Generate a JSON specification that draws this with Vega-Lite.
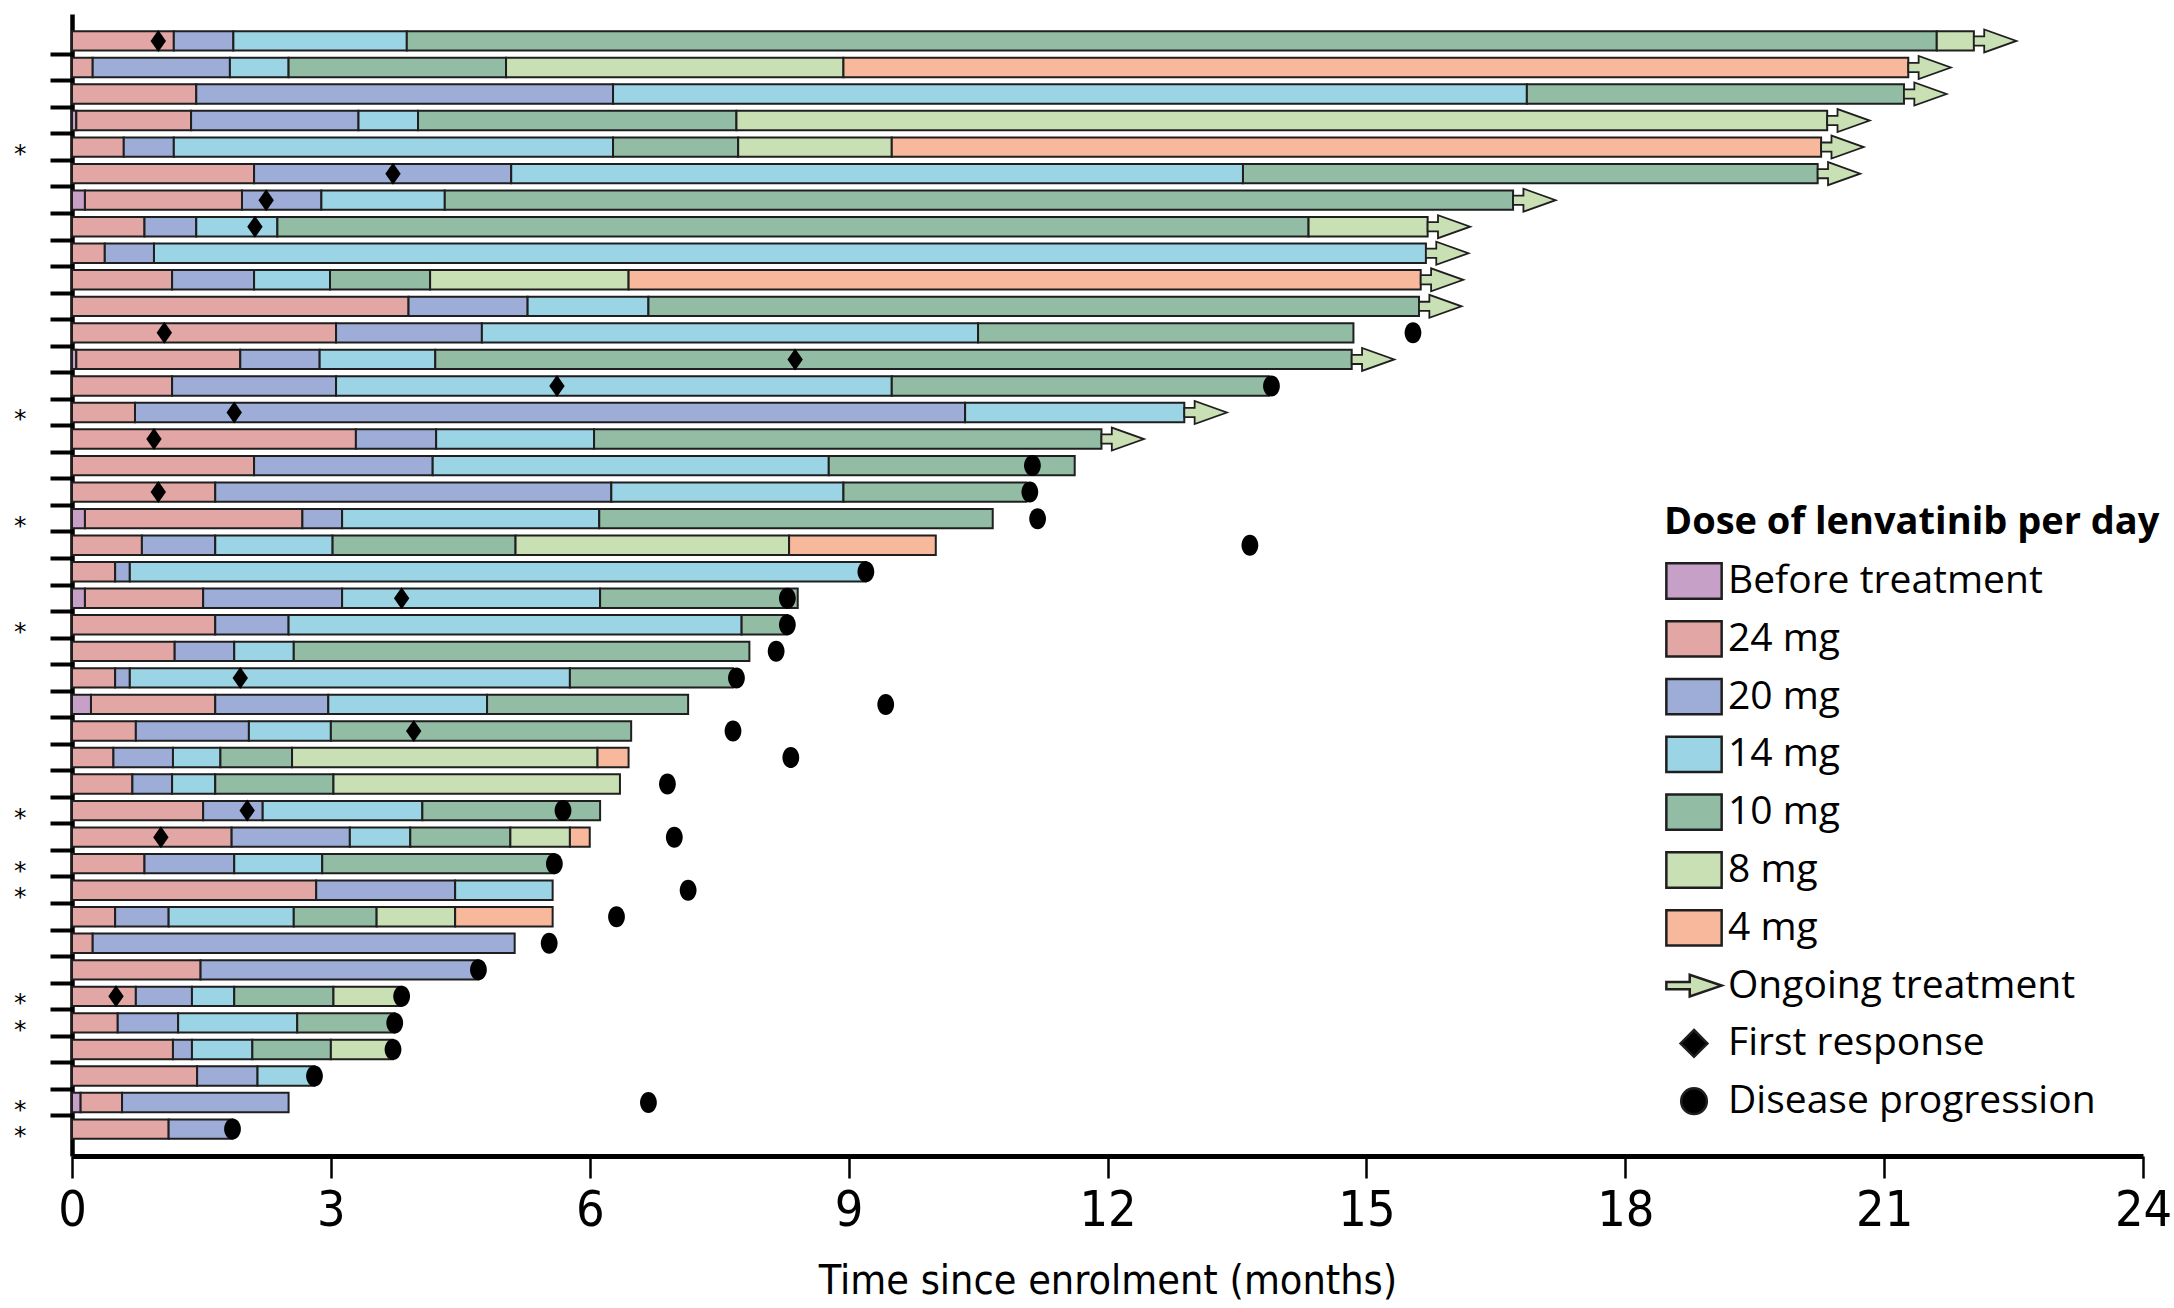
{
  "$schema": "https://vega.github.io/schema/vega-lite/v6.json",
  "width": 2071,
  "height": 1142,
  "autosize": {"type": "none"},
  "padding": {"left": 72, "top": 14, "right": 31, "bottom": 152},
  "background": "white",
  "config": {
    "view": {"stroke": null},
    "legend": {
      "padding": 0,
      "titleFont": "Open Sans", "titleFontSize": 38, "titleFontWeight": "bold", "titleColor": "black", "titlePadding": 9, "titleLimit": 0,
      "labelFont": "Open Sans", "labelFontSize": 39, "labelColor": "black", "labelOffset": 4, "labelLimit": 0,
      "symbolSize": 3249, "symbolStrokeWidth": 2.5, "symbolOpacity": 1, "rowPadding": 4.8, "gridAlign": "all"
    }
  },
  "datasets": {
    "seg": [
      {"p":"P01","d":"24 mg","s":0,"e":1.18},{"p":"P01","d":"20 mg","s":1.18,"e":1.87},{"p":"P01","d":"14 mg","s":1.87,"e":3.88},{"p":"P01","d":"10 mg","s":3.88,"e":21.61},{"p":"P01","d":"8 mg","s":21.61,"e":22.04},
      {"p":"P02","d":"24 mg","s":0,"e":0.24},{"p":"P02","d":"20 mg","s":0.24,"e":1.83},{"p":"P02","d":"14 mg","s":1.83,"e":2.51},{"p":"P02","d":"10 mg","s":2.51,"e":5.03},{"p":"P02","d":"8 mg","s":5.03,"e":8.94},{"p":"P02","d":"4 mg","s":8.94,"e":21.28},
      {"p":"P03","d":"24 mg","s":0,"e":1.44},{"p":"P03","d":"20 mg","s":1.44,"e":6.27},{"p":"P03","d":"14 mg","s":6.27,"e":16.86},{"p":"P03","d":"10 mg","s":16.86,"e":21.23},
      {"p":"P04","d":"Before treatment","s":0,"e":0.05},{"p":"P04","d":"24 mg","s":0.05,"e":1.38},{"p":"P04","d":"20 mg","s":1.38,"e":3.32},{"p":"P04","d":"14 mg","s":3.32,"e":4.01},{"p":"P04","d":"10 mg","s":4.01,"e":7.70},{"p":"P04","d":"8 mg","s":7.70,"e":20.34},
      {"p":"P05","d":"24 mg","s":0,"e":0.60},{"p":"P05","d":"20 mg","s":0.60,"e":1.18},{"p":"P05","d":"14 mg","s":1.18,"e":6.27},{"p":"P05","d":"10 mg","s":6.27,"e":7.72},{"p":"P05","d":"8 mg","s":7.72,"e":9.50},{"p":"P05","d":"4 mg","s":9.50,"e":20.27},
      {"p":"P06","d":"24 mg","s":0,"e":2.11},{"p":"P06","d":"20 mg","s":2.11,"e":5.09},{"p":"P06","d":"14 mg","s":5.09,"e":13.57},{"p":"P06","d":"10 mg","s":13.57,"e":20.23},
      {"p":"P07","d":"Before treatment","s":0,"e":0.15},{"p":"P07","d":"24 mg","s":0.15,"e":1.97},{"p":"P07","d":"20 mg","s":1.97,"e":2.89},{"p":"P07","d":"14 mg","s":2.89,"e":4.32},{"p":"P07","d":"10 mg","s":4.32,"e":16.70},
      {"p":"P08","d":"24 mg","s":0,"e":0.84},{"p":"P08","d":"20 mg","s":0.84,"e":1.44},{"p":"P08","d":"14 mg","s":1.44,"e":2.38},{"p":"P08","d":"10 mg","s":2.38,"e":14.33},{"p":"P08","d":"8 mg","s":14.33,"e":15.71},
      {"p":"P09","d":"24 mg","s":0,"e":0.38},{"p":"P09","d":"20 mg","s":0.38,"e":0.95},{"p":"P09","d":"14 mg","s":0.95,"e":15.69},
      {"p":"P10","d":"24 mg","s":0,"e":1.16},{"p":"P10","d":"20 mg","s":1.16,"e":2.11},{"p":"P10","d":"14 mg","s":2.11,"e":2.99},{"p":"P10","d":"10 mg","s":2.99,"e":4.15},{"p":"P10","d":"8 mg","s":4.15,"e":6.45},{"p":"P10","d":"4 mg","s":6.45,"e":15.63},
      {"p":"P11","d":"24 mg","s":0,"e":3.90},{"p":"P11","d":"20 mg","s":3.90,"e":5.28},{"p":"P11","d":"14 mg","s":5.28,"e":6.68},{"p":"P11","d":"10 mg","s":6.68,"e":15.61},
      {"p":"P12","d":"24 mg","s":0,"e":3.06},{"p":"P12","d":"20 mg","s":3.06,"e":4.75},{"p":"P12","d":"14 mg","s":4.75,"e":10.50},{"p":"P12","d":"10 mg","s":10.50,"e":14.85},
      {"p":"P13","d":"Before treatment","s":0,"e":0.05},{"p":"P13","d":"24 mg","s":0.05,"e":1.95},{"p":"P13","d":"20 mg","s":1.95,"e":2.87},{"p":"P13","d":"14 mg","s":2.87,"e":4.21},{"p":"P13","d":"10 mg","s":4.21,"e":14.83},
      {"p":"P14","d":"24 mg","s":0,"e":1.16},{"p":"P14","d":"20 mg","s":1.16,"e":3.06},{"p":"P14","d":"14 mg","s":3.06,"e":9.50},{"p":"P14","d":"10 mg","s":9.50,"e":13.87},
      {"p":"P15","d":"24 mg","s":0,"e":0.73},{"p":"P15","d":"20 mg","s":0.73,"e":10.35},{"p":"P15","d":"14 mg","s":10.35,"e":12.89},
      {"p":"P16","d":"24 mg","s":0,"e":3.29},{"p":"P16","d":"20 mg","s":3.29,"e":4.22},{"p":"P16","d":"14 mg","s":4.22,"e":6.05},{"p":"P16","d":"10 mg","s":6.05,"e":11.93},
      {"p":"P17","d":"24 mg","s":0,"e":2.11},{"p":"P17","d":"20 mg","s":2.11,"e":4.18},{"p":"P17","d":"14 mg","s":4.18,"e":8.77},{"p":"P17","d":"10 mg","s":8.77,"e":11.62},
      {"p":"P18","d":"24 mg","s":0,"e":1.66},{"p":"P18","d":"20 mg","s":1.66,"e":6.25},{"p":"P18","d":"14 mg","s":6.25,"e":8.94},{"p":"P18","d":"10 mg","s":8.94,"e":11.06},
      {"p":"P19","d":"Before treatment","s":0,"e":0.15},{"p":"P19","d":"24 mg","s":0.15,"e":2.67},{"p":"P19","d":"20 mg","s":2.67,"e":3.13},{"p":"P19","d":"14 mg","s":3.13,"e":6.11},{"p":"P19","d":"10 mg","s":6.11,"e":10.67},
      {"p":"P20","d":"24 mg","s":0,"e":0.81},{"p":"P20","d":"20 mg","s":0.81,"e":1.66},{"p":"P20","d":"14 mg","s":1.66,"e":3.02},{"p":"P20","d":"10 mg","s":3.02,"e":5.14},{"p":"P20","d":"8 mg","s":5.14,"e":8.31},{"p":"P20","d":"4 mg","s":8.31,"e":10.01},
      {"p":"P21","d":"24 mg","s":0,"e":0.50},{"p":"P21","d":"20 mg","s":0.50,"e":0.67},{"p":"P21","d":"14 mg","s":0.67,"e":9.20},
      {"p":"P22","d":"Before treatment","s":0,"e":0.15},{"p":"P22","d":"24 mg","s":0.15,"e":1.52},{"p":"P22","d":"20 mg","s":1.52,"e":3.13},{"p":"P22","d":"14 mg","s":3.13,"e":6.12},{"p":"P22","d":"10 mg","s":6.12,"e":8.41},
      {"p":"P23","d":"24 mg","s":0,"e":1.66},{"p":"P23","d":"20 mg","s":1.66,"e":2.51},{"p":"P23","d":"14 mg","s":2.51,"e":7.76},{"p":"P23","d":"10 mg","s":7.76,"e":8.29},
      {"p":"P24","d":"24 mg","s":0,"e":1.19},{"p":"P24","d":"20 mg","s":1.19,"e":1.88},{"p":"P24","d":"14 mg","s":1.88,"e":2.57},{"p":"P24","d":"10 mg","s":2.57,"e":7.85},
      {"p":"P25","d":"24 mg","s":0,"e":0.50},{"p":"P25","d":"20 mg","s":0.50,"e":0.67},{"p":"P25","d":"14 mg","s":0.67,"e":5.77},{"p":"P25","d":"10 mg","s":5.77,"e":7.66},
      {"p":"P26","d":"Before treatment","s":0,"e":0.22},{"p":"P26","d":"24 mg","s":0.22,"e":1.66},{"p":"P26","d":"20 mg","s":1.66,"e":2.97},{"p":"P26","d":"14 mg","s":2.97,"e":4.81},{"p":"P26","d":"10 mg","s":4.81,"e":7.14},
      {"p":"P27","d":"24 mg","s":0,"e":0.74},{"p":"P27","d":"20 mg","s":0.74,"e":2.05},{"p":"P27","d":"14 mg","s":2.05,"e":3.00},{"p":"P27","d":"10 mg","s":3.00,"e":6.48},
      {"p":"P28","d":"24 mg","s":0,"e":0.48},{"p":"P28","d":"20 mg","s":0.48,"e":1.17},{"p":"P28","d":"14 mg","s":1.17,"e":1.72},{"p":"P28","d":"10 mg","s":1.72,"e":2.55},{"p":"P28","d":"8 mg","s":2.55,"e":6.09},{"p":"P28","d":"4 mg","s":6.09,"e":6.45},
      {"p":"P29","d":"24 mg","s":0,"e":0.70},{"p":"P29","d":"20 mg","s":0.70,"e":1.16},{"p":"P29","d":"14 mg","s":1.16,"e":1.66},{"p":"P29","d":"10 mg","s":1.66,"e":3.03},{"p":"P29","d":"8 mg","s":3.03,"e":6.35},
      {"p":"P30","d":"24 mg","s":0,"e":1.52},{"p":"P30","d":"20 mg","s":1.52,"e":2.21},{"p":"P30","d":"14 mg","s":2.21,"e":4.06},{"p":"P30","d":"10 mg","s":4.06,"e":6.12},
      {"p":"P31","d":"24 mg","s":0,"e":1.85},{"p":"P31","d":"20 mg","s":1.85,"e":3.22},{"p":"P31","d":"14 mg","s":3.22,"e":3.92},{"p":"P31","d":"10 mg","s":3.92,"e":5.08},{"p":"P31","d":"8 mg","s":5.08,"e":5.77},{"p":"P31","d":"4 mg","s":5.77,"e":6.00},
      {"p":"P32","d":"24 mg","s":0,"e":0.84},{"p":"P32","d":"20 mg","s":0.84,"e":1.88},{"p":"P32","d":"14 mg","s":1.88,"e":2.90},{"p":"P32","d":"10 mg","s":2.90,"e":5.59},
      {"p":"P33","d":"24 mg","s":0,"e":2.83},{"p":"P33","d":"20 mg","s":2.83,"e":4.44},{"p":"P33","d":"14 mg","s":4.44,"e":5.57},
      {"p":"P34","d":"24 mg","s":0,"e":0.50},{"p":"P34","d":"20 mg","s":0.50,"e":1.12},{"p":"P34","d":"14 mg","s":1.12,"e":2.57},{"p":"P34","d":"10 mg","s":2.57,"e":3.53},{"p":"P34","d":"8 mg","s":3.53,"e":4.44},{"p":"P34","d":"4 mg","s":4.44,"e":5.57},
      {"p":"P35","d":"24 mg","s":0,"e":0.24},{"p":"P35","d":"20 mg","s":0.24,"e":5.13},
      {"p":"P36","d":"24 mg","s":0,"e":1.49},{"p":"P36","d":"20 mg","s":1.49,"e":4.71},
      {"p":"P37","d":"24 mg","s":0,"e":0.74},{"p":"P37","d":"20 mg","s":0.74,"e":1.39},{"p":"P37","d":"14 mg","s":1.39,"e":1.88},{"p":"P37","d":"10 mg","s":1.88,"e":3.03},{"p":"P37","d":"8 mg","s":3.03,"e":3.82},
      {"p":"P38","d":"24 mg","s":0,"e":0.53},{"p":"P38","d":"20 mg","s":0.53,"e":1.23},{"p":"P38","d":"14 mg","s":1.23,"e":2.61},{"p":"P38","d":"10 mg","s":2.61,"e":3.74},
      {"p":"P39","d":"24 mg","s":0,"e":1.17},{"p":"P39","d":"20 mg","s":1.17,"e":1.39},{"p":"P39","d":"14 mg","s":1.39,"e":2.09},{"p":"P39","d":"10 mg","s":2.09,"e":3.00},{"p":"P39","d":"8 mg","s":3.00,"e":3.72},
      {"p":"P40","d":"24 mg","s":0,"e":1.45},{"p":"P40","d":"20 mg","s":1.45,"e":2.15},{"p":"P40","d":"14 mg","s":2.15,"e":2.81},
      {"p":"P41","d":"Before treatment","s":0,"e":0.10},{"p":"P41","d":"24 mg","s":0.10,"e":0.58},{"p":"P41","d":"20 mg","s":0.58,"e":2.51},
      {"p":"P42","d":"24 mg","s":0,"e":1.12},{"p":"P42","d":"20 mg","s":1.12,"e":1.86}
    ],
    "ev": [
      {"p":"P01","k":"ongoing","d":"Ongoing treatment","t":22.04},{"p":"P02","k":"ongoing","d":"Ongoing treatment","t":21.28},{"p":"P03","k":"ongoing","d":"Ongoing treatment","t":21.23},{"p":"P04","k":"ongoing","d":"Ongoing treatment","t":20.34},{"p":"P05","k":"ongoing","d":"Ongoing treatment","t":20.27},{"p":"P06","k":"ongoing","d":"Ongoing treatment","t":20.23},{"p":"P07","k":"ongoing","d":"Ongoing treatment","t":16.70},{"p":"P08","k":"ongoing","d":"Ongoing treatment","t":15.71},{"p":"P09","k":"ongoing","d":"Ongoing treatment","t":15.69},{"p":"P10","k":"ongoing","d":"Ongoing treatment","t":15.63},{"p":"P11","k":"ongoing","d":"Ongoing treatment","t":15.61},{"p":"P13","k":"ongoing","d":"Ongoing treatment","t":14.83},{"p":"P15","k":"ongoing","d":"Ongoing treatment","t":12.89},{"p":"P16","k":"ongoing","d":"Ongoing treatment","t":11.93},
      {"p":"P01","k":"response","d":"First response","t":1.0},{"p":"P06","k":"response","d":"First response","t":3.72},{"p":"P07","k":"response","d":"First response","t":2.25},{"p":"P08","k":"response","d":"First response","t":2.12},{"p":"P12","k":"response","d":"First response","t":1.07},{"p":"P13","k":"response","d":"First response","t":8.38},{"p":"P14","k":"response","d":"First response","t":5.62},{"p":"P15","k":"response","d":"First response","t":1.88},{"p":"P16","k":"response","d":"First response","t":0.95},{"p":"P18","k":"response","d":"First response","t":1.0},{"p":"P22","k":"response","d":"First response","t":3.82},{"p":"P25","k":"response","d":"First response","t":1.95},{"p":"P27","k":"response","d":"First response","t":3.96},{"p":"P30","k":"response","d":"First response","t":2.03},{"p":"P31","k":"response","d":"First response","t":1.03},{"p":"P37","k":"response","d":"First response","t":0.51},
      {"p":"P12","k":"progression","d":"Disease progression","t":15.54},{"p":"P14","k":"progression","d":"Disease progression","t":13.9},{"p":"P17","k":"progression","d":"Disease progression","t":11.13},{"p":"P18","k":"progression","d":"Disease progression","t":11.1},{"p":"P19","k":"progression","d":"Disease progression","t":11.19},{"p":"P20","k":"progression","d":"Disease progression","t":13.65},{"p":"P21","k":"progression","d":"Disease progression","t":9.20},{"p":"P22","k":"progression","d":"Disease progression","t":8.29},{"p":"P23","k":"progression","d":"Disease progression","t":8.29},{"p":"P24","k":"progression","d":"Disease progression","t":8.16},{"p":"P25","k":"progression","d":"Disease progression","t":7.70},{"p":"P26","k":"progression","d":"Disease progression","t":9.43},{"p":"P27","k":"progression","d":"Disease progression","t":7.66},{"p":"P28","k":"progression","d":"Disease progression","t":8.33},{"p":"P29","k":"progression","d":"Disease progression","t":6.90},{"p":"P30","k":"progression","d":"Disease progression","t":5.69},{"p":"P31","k":"progression","d":"Disease progression","t":6.98},{"p":"P32","k":"progression","d":"Disease progression","t":5.59},{"p":"P33","k":"progression","d":"Disease progression","t":7.14},{"p":"P34","k":"progression","d":"Disease progression","t":6.31},{"p":"P35","k":"progression","d":"Disease progression","t":5.53},{"p":"P36","k":"progression","d":"Disease progression","t":4.71},{"p":"P37","k":"progression","d":"Disease progression","t":3.82},{"p":"P38","k":"progression","d":"Disease progression","t":3.74},{"p":"P39","k":"progression","d":"Disease progression","t":3.72},{"p":"P40","k":"progression","d":"Disease progression","t":2.81},{"p":"P41","k":"progression","d":"Disease progression","t":6.68},{"p":"P42","k":"progression","d":"Disease progression","t":1.86}
    ]
  },
  "layer": [
    {
      "data": {"name": "seg"},
      "mark": {"type": "bar", "stroke": "#1f1f1f", "strokeWidth": 2},
      "encoding": {
        "y": {
          "field": "p", "type": "nominal",
          "scale": {
            "domain": ["P01","P02","P03","P04","P05","P06","P07","P08","P09","P10","P11","P12","P13","P14","P15","P16","P17","P18","P19","P20","P21","P22","P23","P24","P25","P26","P27","P28","P29","P30","P31","P32","P33","P34","P35","P36","P37","P38","P39","P40","P41","P42"],
            "paddingInner": 0.27, "paddingOuter": 0.65
          },
          "axis": {
            "title": null, "grid": false,
            "domainColor": "black", "domainWidth": 4.5,
            "tickColor": "black", "tickWidth": 4, "tickSize": 22, "bandPosition": 1.186,
            "tickOpacity": {"condition": {"test": "datum.value === 'P42'", "value": 0}, "value": 1},
            "labelExpr": "indexof(['P05','P15','P19','P23','P30','P32','P33','P37','P38','P41','P42'], datum.value) >= 0 ? '*' : ''",
            "labelFont": "DejaVu Sans", "labelFontSize": 25, "labelColor": "black",
            "labelPadding": 24, "labelBaseline": "middle", "labelOffset": 7
          }
        },
        "x": {
          "field": "s", "type": "quantitative",
          "scale": {"domain": [0, 24], "nice": false},
          "axis": {
            "title": "Time since enrolment (months)", "grid": false,
            "values": [0, 3, 6, 9, 12, 15, 18, 21, 24], "format": "d",
            "domainColor": "black", "domainWidth": 5,
            "tickColor": "black", "tickWidth": 2.5, "tickSize": 22,
            "labelFont": "Liberation Sans Narrow, DejaVu Sans Condensed, Liberation Sans", "labelFontSize": 50, "labelColor": "black", "labelPadding": 7, "labelFlush": false,
            "titleFont": "Liberation Sans Narrow, DejaVu Sans Condensed, Liberation Sans", "titleFontSize": 41, "titleFontWeight": "normal", "titleColor": "black", "titlePadding": 26
          }
        },
        "x2": {"field": "e"},
        "fill": {
          "field": "d", "type": "nominal",
          "scale": {
            "domain": ["Before treatment", "24 mg", "20 mg", "14 mg", "10 mg", "8 mg", "4 mg", "Ongoing treatment", "First response", "Disease progression"],
            "range": ["#c6a0c7", "#e2a6a4", "#9eadd8", "#9bd4e4", "#92bda4", "#c9e0b5", "#f8b89c", "#c9e0b5", "#000000", "#000000"]
          },
          "legend": {"title": "Dose of lenvatinib per day", "orient": "none", "legendX": 1592, "legendY": 490}
        }
      }
    },
    {
      "data": {"name": "ev"},
      "mark": {"type": "point", "filled": true, "opacity": 0, "size": 1, "stroke": "#1a1a1a", "strokeWidth": 2.5},
      "encoding": {
        "y": {"field": "p", "type": "nominal"},
        "x": {"field": "t", "type": "quantitative"},
        "fill": {"field": "d", "type": "nominal"},
        "shape": {
          "field": "d", "type": "nominal",
          "scale": {
            "domain": ["Before treatment", "24 mg", "20 mg", "14 mg", "10 mg", "8 mg", "4 mg", "Ongoing treatment", "First response", "Disease progression"],
            "range": [
              "M-0.97,-0.62H0.97V0.62H-0.97Z", "M-0.97,-0.62H0.97V0.62H-0.97Z", "M-0.97,-0.62H0.97V0.62H-0.97Z", "M-0.97,-0.62H0.97V0.62H-0.97Z", "M-0.97,-0.62H0.97V0.62H-0.97Z", "M-0.97,-0.62H0.97V0.62H-0.97Z", "M-0.97,-0.62H0.97V0.62H-0.97Z",
              "M-0.97,-0.13H-0.15V-0.38L0.97,0L-0.15,0.38V0.13H-0.97Z",
              "M0,-0.47L0.47,0L0,0.47L-0.47,0Z",
              "M-0.45,0A0.45,0.45 0 1,1 0.45,0A0.45,0.45 0 1,1 -0.45,0Z"
            ]
          },
          "legend": {"title": "Dose of lenvatinib per day", "orient": "none", "legendX": 1592, "legendY": 490}
        }
      }
    },
    {
      "data": {"name": "ev"},
      "transform": [{"filter": "datum.k === 'ongoing'"}],
      "mark": {"type": "point", "shape": "M0,-0.4H0.9V-1L3.7,0L0.9,1V0.4H0Z", "size": 529, "filled": true, "fill": "#c9e0b5", "stroke": "#1f1f1f", "strokeWidth": 1.8, "opacity": 1},
      "encoding": {
        "y": {"field": "p", "type": "nominal"},
        "x": {"field": "t", "type": "quantitative"}
      }
    },
    {
      "data": {"name": "ev"},
      "transform": [{"filter": "datum.k === 'progression'"}],
      "mark": {"type": "point", "shape": "M0,-1A0.8,1 0 1,1 0,1A0.8,1 0 1,1 0,-1Z", "size": 441, "filled": true, "fill": "black", "strokeWidth": 0, "opacity": 1},
      "encoding": {
        "y": {"field": "p", "type": "nominal"},
        "x": {"field": "t", "type": "quantitative"}
      }
    },
    {
      "data": {"name": "ev"},
      "transform": [{"filter": "datum.k === 'response'"}],
      "mark": {"type": "point", "shape": "M0,-1L0.7,0L0,1L-0.7,0Z", "size": 484, "filled": true, "fill": "black", "strokeWidth": 0, "opacity": 1},
      "encoding": {
        "y": {"field": "p", "type": "nominal"},
        "x": {"field": "t", "type": "quantitative"}
      }
    }
  ]
}
